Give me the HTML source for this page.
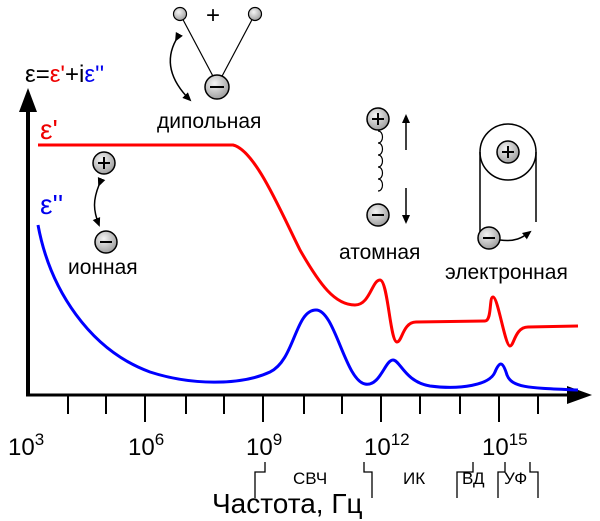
<!DOCTYPE html>
<html><head><meta charset="utf-8"><style>body{margin:0;background:#fff}svg{display:block}text{font-family:"Liberation Sans",sans-serif}</style></head><body>
<svg width="600" height="521" viewBox="0 0 600 521">
<defs>
<radialGradient id="g" cx="0.4" cy="0.35" r="0.7"><stop offset="0" stop-color="#f4f4f4"/><stop offset="1" stop-color="#9a9a9a"/></radialGradient>
<marker id="ah" markerWidth="10" markerHeight="10" refX="7" refY="5" orient="auto" markerUnits="userSpaceOnUse"><path d="M0,1 L9,5 L0,9 Z" fill="#000"/></marker>
</defs>
<line x1="28" y1="395" x2="28" y2="110" stroke="#000" stroke-width="4"/>
<path d="M19,112 L28,88 L37,112 Z" fill="#000"/>
<line x1="26" y1="395" x2="570" y2="395" stroke="#000" stroke-width="3"/>
<path d="M567,386 L592,395 L567,404 Z" fill="#000"/>
<g stroke="#000" stroke-width="2">
<line x1="68" y1="395" x2="68" y2="414"/><line x1="106" y1="395" x2="106" y2="414"/>
<line x1="145" y1="395" x2="145" y2="422"/><line x1="186" y1="395" x2="186" y2="414"/>
<line x1="224" y1="395" x2="224" y2="414"/><line x1="263" y1="395" x2="263" y2="422"/>
<line x1="304" y1="395" x2="304" y2="414"/><line x1="342" y1="395" x2="342" y2="414"/>
<line x1="381" y1="395" x2="381" y2="422"/><line x1="420" y1="395" x2="420" y2="414"/>
<line x1="460" y1="395" x2="460" y2="414"/><line x1="499" y1="395" x2="499" y2="422"/>
<line x1="538" y1="395" x2="538" y2="414"/>
</g>
<g font-size="24" fill="#000">
<text x="8" y="455">10<tspan font-size="17" dy="-10">3</tspan></text>
<text x="128" y="455">10<tspan font-size="17" dy="-10">6</tspan></text>
<text x="246" y="455">10<tspan font-size="17" dy="-10">9</tspan></text>
<text x="364" y="455">10<tspan font-size="17" dy="-10">12</tspan></text>
<text x="482" y="455">10<tspan font-size="17" dy="-10">15</tspan></text>
</g>
<g stroke="#000" stroke-width="1.3" fill="none">
<path d="M255,498 V472 H265 V462"/>
<path d="M364,462 V472 H372 V498"/>
<path d="M457,498 V472 H473 V462"/>
<path d="M498,498 V472 H505 V462"/>
<path d="M530,462 V472 H538 V498"/>
</g>
<g font-size="17" fill="#000">
<text x="293" y="484">СВЧ</text>
<text x="403" y="484">ИК</text>
<text x="462" y="484">ВД</text>
<text x="504" y="484">УФ</text>
</g>
<text x="212" y="513" font-size="28">Частота, Гц</text>
<text x="25" y="82" font-size="24">ε=<tspan fill="#e00">ε'</tspan>+i<tspan fill="#00e">ε''</tspan></text>
<text x="40" y="139" font-size="28" fill="#e00">ε'</text>
<text x="40" y="214" font-size="28" fill="#00e">ε''</text>
<path d="M38,145 L233,145 C255,150 280,210 300,250 C320,285 335,305 355,305 C370,305 372,280 380,280 C388,280 390,342 397,342 C402,342 403,322 416,322 L485,321 C492,321 489,297 493,297 C498,297 505,346 510,346 C514,346 515,327 528,327 L578,326" fill="none" stroke="#f00" stroke-width="3"/>
<path d="M38,225 C50,290 90,350 150,372 C190,385 240,386 270,372 C295,360 295,310 316,310 C335,310 345,380 365,384 C380,387 385,360 393,360 C400,360 405,382 430,386 C460,390 490,385 495,372 C500,360 503,362 507,375 C512,388 530,388 578,390" fill="none" stroke="#00f" stroke-width="3"/>
<g stroke="#000" stroke-width="1.2">
<line x1="180" y1="14" x2="215" y2="80"/><line x1="255" y1="14" x2="220" y2="80"/>
<circle cx="180" cy="14" r="6.5" fill="url(#g)"/><circle cx="255" cy="14" r="6.5" fill="url(#g)"/>
<circle cx="217" cy="87" r="12" fill="url(#g)" stroke-width="1.5"/>
<line x1="210" y1="87" x2="224" y2="87" stroke-width="2"/>
</g>
<text x="206" y="23" font-size="24">+</text>
<path d="M176,40 C165,60 170,80 190,100" fill="none" stroke="#000" stroke-width="1.5" marker-start="url(#ah)" marker-end="url(#ah)"/>
<text x="157" y="128" font-size="21">дипольная</text>
<g stroke="#000" stroke-width="1.5">
<circle cx="104" cy="163" r="11" fill="url(#g)"/><path d="M98,163 H110 M104,157 V169" stroke-width="2"/>
<circle cx="106" cy="242" r="11" fill="url(#g)"/><path d="M100,242 H112" stroke-width="2"/>
</g>
<path d="M99,185 C93,200 93,210 99,225" fill="none" stroke="#000" stroke-width="1.5" marker-start="url(#ah)" marker-end="url(#ah)"/>
<text x="68" y="274" font-size="21">ионная</text>
<path d="M378,131 c6,0 6,12 0,12 c6,0 6,12 0,12 c6,0 6,12 0,12 c6,0 6,12 0,12 c6,0 6,12 0,12" fill="none" stroke="#000" stroke-width="1.2"/>
<g stroke="#000" stroke-width="1.5">
<circle cx="378" cy="119" r="11" fill="url(#g)"/><path d="M372,119 H384 M378,113 V125" stroke-width="2"/>
<circle cx="378" cy="215" r="11" fill="url(#g)"/><path d="M372,215 H384" stroke-width="2"/>
</g>
<line x1="406" y1="150" x2="406" y2="116" stroke="#000" stroke-width="1.5" marker-end="url(#ah)"/>
<line x1="406" y1="188" x2="406" y2="222" stroke="#000" stroke-width="1.5" marker-end="url(#ah)"/>
<text x="339" y="259" font-size="21">атомная</text>
<g stroke="#000" stroke-width="1.5" fill="none">
<circle cx="508" cy="152" r="28"/>
<line x1="480" y1="152" x2="480" y2="236"/><line x1="536" y1="152" x2="536" y2="222"/>
<path d="M500,240 C515,242 522,238 530,232" marker-end="url(#ah)"/>
</g>
<g stroke="#000" stroke-width="1.5">
<circle cx="508" cy="152" r="11" fill="url(#g)"/><path d="M502,152 H514 M508,146 V158" stroke-width="2"/>
<circle cx="489" cy="238" r="11" fill="url(#g)"/><path d="M483,238 H495" stroke-width="2"/>
</g>
<text x="445" y="279" font-size="21">электронная</text>
</svg>
</body></html>
